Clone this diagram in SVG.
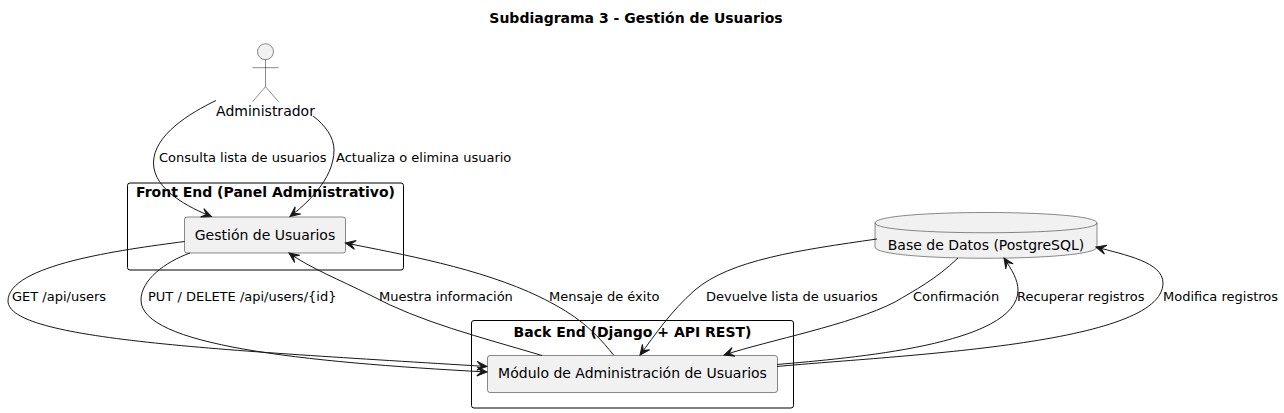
<svg xmlns="http://www.w3.org/2000/svg" width="1284" height="413" viewBox="0 0 1284 413">
<style>
text{font-family:"DejaVu Sans",sans-serif;fill:#000}
.t{font-size:14px;font-weight:bold}
.n{font-size:14px}
.l{font-size:13px}
.g{fill:none;stroke:#000;stroke-width:1}
.b{fill:#F1F1F1;stroke:#181818;stroke-width:.5}
.e{fill:none;stroke:#181818;stroke-width:1;marker-end:url(#a)}
</style>
<defs>
<marker id="a" markerUnits="userSpaceOnUse" markerWidth="14" markerHeight="12" refX="11" refY="6" orient="auto" overflow="visible">
<path d="M11,6 L1,1.5 L5.5,6 L1,10.5 Z" fill="#181818" stroke="#181818" stroke-width="1"/>
</marker>
</defs>
<rect width="1284" height="413" fill="#fff"/>
<text class="t" x="636" y="23" text-anchor="middle">Subdiagrama 3 - Gestión de Usuarios</text>
<g id="front">
<rect class="g" x="127.5" y="183" width="276" height="87" rx="2.5"/>
<text class="t" x="265.5" y="197" text-anchor="middle">Front End (Panel Administrativo)</text>
</g>
<g id="back">
<rect class="g" x="471.5" y="320.5" width="322" height="87.5" rx="2.5"/>
<text class="t" x="632.5" y="337" text-anchor="middle">Back End (Django + API REST)</text>
</g>
<g id="admin">
<circle class="b" cx="265.5" cy="51.7" r="8"/>
<path class="b" style="fill:none" d="M265.5,59.7V86.7M252.5,67.7H278.5M265.5,86.7L252.5,101.7M265.5,86.7L278.5,101.7"/>
<text class="n" x="265.5" y="116" text-anchor="middle">Administrador</text>
</g>
<g id="gestion">
<rect class="b" x="184.5" y="217" width="161" height="36" rx="2.5"/>
<text class="n" x="265" y="240" text-anchor="middle">Gestión de Usuarios</text>
</g>
<g id="modulo">
<rect class="b" x="487.5" y="355.5" width="290" height="37" rx="2.5"/>
<text class="n" x="632.5" y="378" text-anchor="middle">Módulo de Administración de Usuarios</text>
</g>
<g id="db">
<path class="b" d="M875,223C875,209 1097,209 1097,223V247C1097,262 875,262 875,247Z"/>
<path class="b" style="fill:none" d="M875,223C875,236 1097,236 1097,223"/>
<text class="n" x="986" y="250" text-anchor="middle">Base de Datos (PostgreSQL)</text>
</g>
<g id="connectors">
<path class="e" d="M216,100.5C190,113 153.5,135 153.5,163C153.5,190 190,208 211.5,216.5"/>
<path class="e" d="M313,116C325,125 334,137 334,150C334,180 305,205 290,216.5"/>
<path class="e" d="M184.5,241.5C120,250 8,265 8,301C8,340 220,350 487,366.5"/>
<path class="e" d="M190,253C165,262 141,280 141,300C141,345 300,362 487,372"/>
<path class="e" d="M542,355.5C480,337 420,322 370,295C340,280 310,268 289,253"/>
<path class="e" d="M613.5,355C590,325 570,312 540,297C480,268 400,254 345.5,243"/>
<path class="e" d="M877,239C800,250 730,260 695,290C670,312 655,335 640,355"/>
<path class="e" d="M958,258C935,280 915,290 895,302C850,325 770,340 724,355"/>
<path class="e" d="M777,364.5C850,358 1018,345 1018,290C1018,280 1012,270 1004,258"/>
<path class="e" d="M777,366.5C900,355 1163,345 1163,283C1163,262 1125,255 1096,247"/>
</g>
<g id="labels">
<text class="l" x="159" y="162">Consulta lista de usuarios</text>
<text class="l" x="336" y="162">Actualiza o elimina usuario</text>
<text class="l" x="12" y="301">GET /api/users</text>
<text class="l" x="148" y="301">PUT / DELETE /api/users/{id}</text>
<text class="l" x="379" y="301">Muestra información</text>
<text class="l" x="549" y="301">Mensaje de éxito</text>
<text class="l" x="706" y="301">Devuelve lista de usuarios</text>
<text class="l" x="913" y="301">Confirmación</text>
<text class="l" x="1017" y="301">Recuperar registros</text>
<text class="l" x="1163" y="301">Modifica registros</text>
</g>
</svg>
